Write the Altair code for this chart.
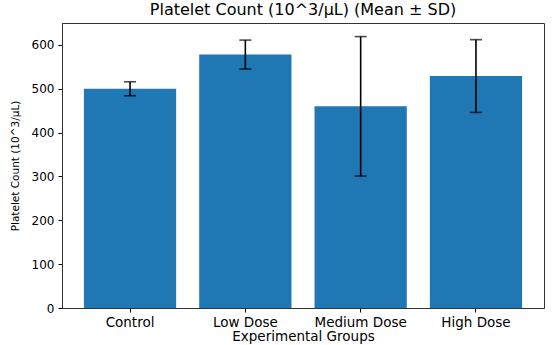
import altair as alt
import pandas as pd

groups = ["Control", "Low Dose", "Medium Dose", "High Dose"]
means = [500, 578, 460, 529]
sds = [16, 33, 159, 83]

df = pd.DataFrame({
    "group": groups,
    "mean": means,
    "lo": [m - s for m, s in zip(means, sds)],
    "hi": [m + s for m, s in zip(means, sds)],
})

FONT = "DejaVu Sans"

x = alt.X("group:N", sort=groups,
          scale=alt.Scale(paddingInner=0.2, paddingOuter=0.19),
          axis=alt.Axis(title="Experimental Groups", labelAngle=0, labelFontSize=13.5,
                        titleFontSize=13.5, titleFontWeight="normal", labelColor="black",
                        titleColor="black", tickColor="black", domainColor="#333",
                        tickSize=4, labelPadding=3, titlePadding=1, grid=False))

base = alt.Chart(df)

bars = base.mark_bar(color="#1f77b4").encode(
    x=x,
    y=alt.Y("mean:Q", scale=alt.Scale(domain=[0, 650], nice=False),
            axis=alt.Axis(title="Platelet Count (10^3/μL)", values=[0, 100, 200, 300, 400, 500, 600],
                          labelFontSize=12, titleFontSize=10.5, titleFontWeight="normal",
                          labelColor="black", titleColor="black", tickColor="black",
                          domainColor="#333", tickSize=4, labelPadding=4, titlePadding=11,
                          grid=False)),
)

rules = base.mark_rule(color="black", strokeWidth=1.6).encode(
    x=alt.X("group:N", sort=groups), y="lo:Q", y2="hi:Q"
)
cap_lo = base.mark_tick(color="black", thickness=1.6, size=12).encode(
    x=alt.X("group:N", sort=groups), y="lo:Q"
)
cap_hi = base.mark_tick(color="black", thickness=1.6, size=12).encode(
    x=alt.X("group:N", sort=groups), y="hi:Q"
)

chart = alt.layer(bars, rules, cap_lo, cap_hi).properties(
    width=482, height=285,
    title=alt.TitleParams("Platelet Count (10^3/μL) (Mean ± SD)", fontSize=16,
                          fontWeight="normal", color="black", offset=5, font=FONT),
    autosize=alt.AutoSizeParams(type="none"),
    padding={"left": 62, "top": 23, "right": 10, "bottom": 38},
).configure(font=FONT).configure_view(stroke="#333", strokeWidth=1)

chart.save("out.html", embed_options={"renderer": "svg", "actions": False})
